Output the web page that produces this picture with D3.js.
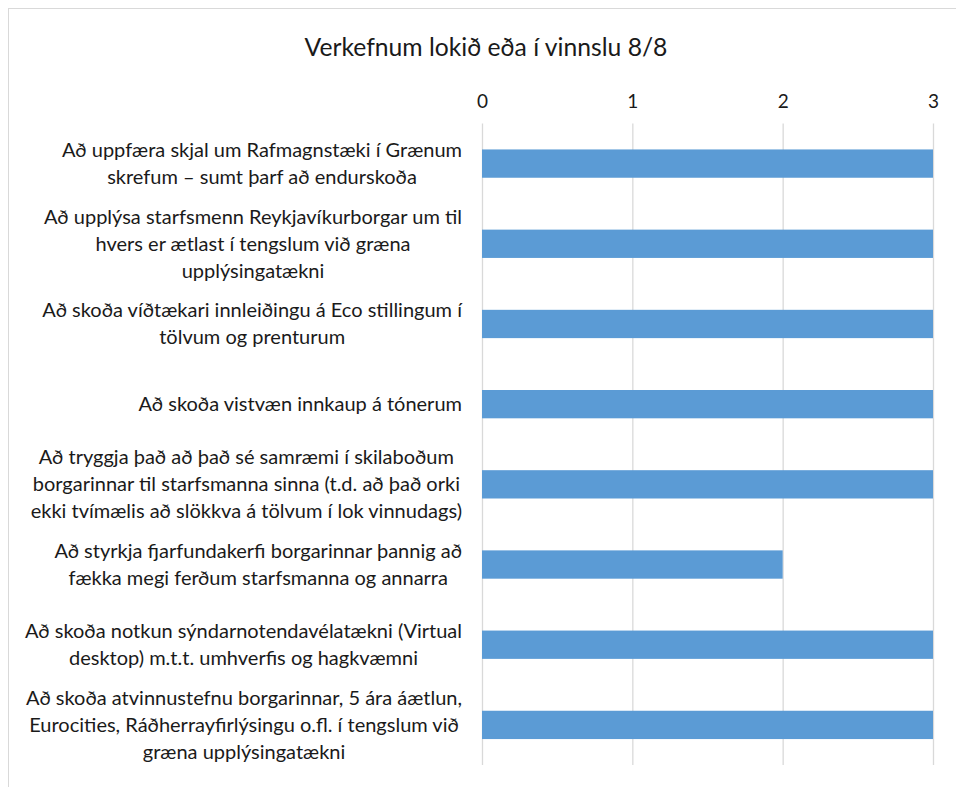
<!DOCTYPE html>
<html>
<head>
<meta charset="utf-8">
<script src="https://cdn.jsdelivr.net/npm/d3@7"></script>
<style>
  body { margin: 0; background: #fff; }
  svg text { font-family: Lato, "Open Sans", sans-serif; fill: #1a1a1a; }
</style>
</head>
<body>
<svg></svg>
<script>
var width = 956;
var height = 787;

// chart data (labels wrapped as in the original)
var categories = [
    ["Að uppfæra skjal um Rafmagnstæki í Grænum", "skrefum – sumt þarf að endurskoða"],
    ["Að upplýsa starfsmenn Reykjavíkurborgar um til", "hvers er ætlast í tengslum við græna", "upplýsingatækni"],
    ["Að skoða víðtækari innleiðingu á Eco stillingum í", "tölvum og prenturum"],
    ["Að skoða vistvæn innkaup á tónerum"],
    ["Að tryggja það að það sé samræmi í skilaboðum", "borgarinnar til starfsmanna sinna (t.d. að það orki", "ekki tvímælis að slökkva á tölvum í lok vinnudags)"],
    ["Að styrkja fjarfundakerfi borgarinnar þannig að", "fækka megi ferðum starfsmanna og annarra"],
    ["Að skoða notkun sýndarnotendavélatækni (Virtual", "desktop) m.t.t. umhverfis og hagkvæmni"],
    ["Að skoða atvinnustefnu borgarinnar, 5 ára áætlun,", "Eurocities, Ráðherrayfirlýsingu o.fl. í tengslum við", "græna upplýsingatækni"]
];
var values = [3, 3, 3, 3, 3, 2, 3, 3];
var ticks = [0, 1, 2, 3];
var title = "Verkefnum lokið eða í vinnslu 8/8";

var margin = {top: 123.5, right: 23, bottom: 22, left: 482};

var svg = d3.select("svg")
    .attr("width", width)
    .attr("height", height);

// chart border
svg.append("rect")
    .attr("x", 8.5)
    .attr("y", 8.5)
    .attr("width", 980)
    .attr("height", 800)
    .attr("fill", "none")
    .attr("stroke", "#d9d9d9");

var xScale = d3.scaleLinear()
    .domain([0, 3])
    .range([margin.left, width - margin.right]);

var yScale = d3.scaleBand()
    .domain(d3.range(categories.length))
    .range([margin.top, height - margin.bottom])
    .paddingInner(0.647)
    .paddingOuter(0.3235);

// gridlines + tick labels on top
var xAxis = d3.axisTop(xScale)
    .tickValues(ticks)
    .tickFormat(d3.format("d"))
    .tickSize(-(height - margin.bottom - margin.top))
    .tickSizeOuter(0)
    .tickPadding(16);

var gx = svg.append("g")
    .attr("transform", "translate(0," + margin.top + ")")
    .call(xAxis);
gx.select(".domain").remove();
gx.selectAll(".tick line")
    .attr("stroke", "#d9d9d9")
    .attr("stroke-width", 1.3);
gx.selectAll(".tick text")
    .style("font-size", "19px")
    .attr("fill", "#1a1a1a");

// bars
svg.selectAll("rect.bar")
    .data(values)
    .enter()
    .append("rect")
        .attr("class", "bar")
        .attr("x", xScale(0))
        .attr("y", (d, i) => yScale(i))
        .attr("width", d => xScale(d) - xScale(0))
        .attr("height", yScale.bandwidth())
        .attr("fill", "#5b9bd5");

// category labels: lines centred, block right-aligned
var lineHeight = 27;
var labelRight = 462;
categories.forEach(function(lines, i) {
    var cy = yScale(i) + yScale.bandwidth() / 2;
    var g = svg.append("g");
    var texts = g.selectAll("text")
        .data(lines)
        .enter()
        .append("text")
            .attr("y", (d, j) => cy + (j - (lines.length - 1) / 2) * lineHeight)
            .attr("dy", "0.35em")
            .style("font-size", "20px")
            .style("text-anchor", "middle")
            .text(d => d);
    var maxW = d3.max(texts.nodes(), n => n.getComputedTextLength());
    texts.attr("x", labelRight - maxW / 2);
});

// title
svg.append("text")
    .attr("x", 486)
    .attr("y", 47)
    .attr("dy", "0.35em")
    .style("text-anchor", "middle")
    .style("font-size", "24.7px")
    .text(title);
</script>
</body>
</html>
